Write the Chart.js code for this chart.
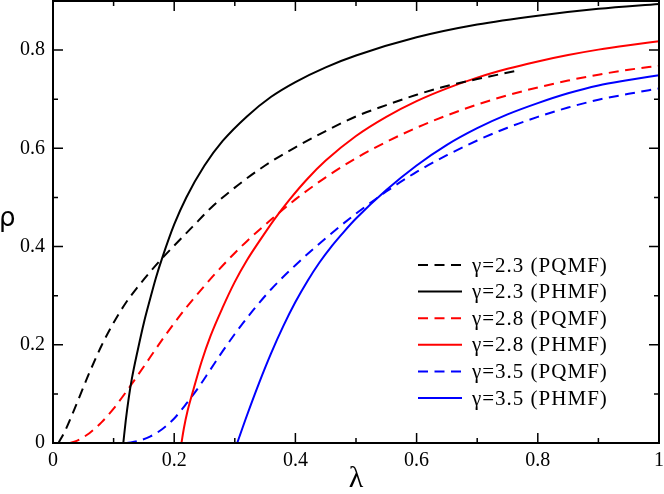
<!DOCTYPE html>
<html>
<head>
<meta charset="utf-8">
<style>
  body { margin: 0; background: #fff; }
  #wrap { width: 664px; height: 494px; position: relative; }
</style>
</head>
<body>
<div id="wrap"><canvas id="rhoChart"></canvas></div>
<script src="https://cdn.jsdelivr.net/npm/chart.js@4.4.0/dist/chart.umd.min.js"></script>
<script>
// tick marks and labels
const xTickVals = [0, 0.2, 0.4, 0.6, 0.8, 1];
const xTickLabels = ['0', '0.2', '0.4', '0.6', '0.8', '1'];
const xMinorVals = [0.1, 0.3, 0.5, 0.7, 0.9];
const yTickVals = [0, 0.2, 0.4, 0.6, 0.8];
const yTickLabels = ['0', '0.2', '0.4', '0.6', '0.8'];
const yMinorVals = [0.1, 0.3, 0.5, 0.7];

const seriesLabels = ['γ=2.3 (PQMF)', 'γ=2.3 (PHMF)', 'γ=2.8 (PQMF)',
                      'γ=2.8 (PHMF)', 'γ=3.5 (PQMF)', 'γ=3.5 (PHMF)'];

// gamma = 2.3, PQMF (dashed black)
const lam23q = [0.009, 0.02, 0.03, 0.045, 0.06, 0.08, 0.1, 0.12, 0.14, 0.16, 0.18, 0.2, 0.23, 0.26, 0.3, 0.35, 0.4, 0.45, 0.5, 0.55, 0.6, 0.65, 0.7, 0.765];
const rho23q = [0, 0.025, 0.053, 0.098, 0.143, 0.198, 0.245, 0.285, 0.318, 0.348, 0.376, 0.402, 0.44, 0.478, 0.52, 0.565, 0.602, 0.635, 0.665, 0.688, 0.709, 0.727, 0.741, 0.758];
// gamma = 2.3, PHMF (solid black)
const lam23h = [0.116, 0.12, 0.125, 0.13, 0.14, 0.15, 0.16, 0.17, 0.18, 0.2, 0.22, 0.25, 0.28, 0.32, 0.36, 0.4, 0.45, 0.5, 0.6, 0.7, 0.8, 0.9, 1.0];
const rho23h = [0, 0.045, 0.092, 0.13, 0.19, 0.245, 0.292, 0.337, 0.376, 0.445, 0.5, 0.565, 0.615, 0.665, 0.705, 0.735, 0.765, 0.789, 0.826, 0.852, 0.870, 0.884, 0.894];
// gamma = 2.8, PQMF (dashed red)
const lam28q = [0.028, 0.04, 0.06, 0.08, 0.1, 0.12, 0.14, 0.16, 0.18, 0.2, 0.22, 0.25, 0.27, 0.3, 0.32, 0.36, 0.4, 0.45, 0.5, 0.55, 0.6, 0.65, 0.7, 0.75, 0.8, 0.85, 0.9, 0.95, 1.0];
const rho28q = [0, 0.005, 0.02, 0.042, 0.07, 0.103, 0.138, 0.174, 0.21, 0.244, 0.276, 0.32, 0.348, 0.387, 0.411, 0.455, 0.496, 0.541, 0.58, 0.613, 0.642, 0.667, 0.689, 0.708, 0.724, 0.738, 0.75, 0.76, 0.768];
// gamma = 2.8, PHMF (solid red)
const lam28h = [0.212, 0.216, 0.222, 0.232, 0.245, 0.26, 0.28, 0.3, 0.32, 0.34, 0.365, 0.39, 0.42, 0.45, 0.5, 0.55, 0.6, 0.65, 0.7, 0.75, 0.8, 0.85, 0.9, 0.95, 1.0];
const rho28h = [0, 0.03, 0.065, 0.11, 0.165, 0.218, 0.276, 0.328, 0.372, 0.41, 0.455, 0.495, 0.538, 0.575, 0.625, 0.664, 0.696, 0.722, 0.744, 0.762, 0.777, 0.79, 0.801, 0.81, 0.818];
// gamma = 3.5, PQMF (dashed blue)
const lam35q = [0.122, 0.14, 0.16, 0.18, 0.2, 0.22, 0.24, 0.26, 0.28, 0.3, 0.33, 0.36, 0.4, 0.45, 0.5, 0.55, 0.6, 0.65, 0.7, 0.75, 0.8, 0.85, 0.9, 0.95, 1.0];
const rho35q = [0, 0.004, 0.013, 0.028, 0.05, 0.08, 0.113, 0.15, 0.187, 0.222, 0.27, 0.313, 0.362, 0.417, 0.467, 0.512, 0.552, 0.586, 0.616, 0.642, 0.664, 0.683, 0.699, 0.711, 0.722];
// gamma = 3.5, PHMF (solid blue)
const lam35h = [0.304, 0.32, 0.34, 0.36, 0.38, 0.4, 0.42, 0.44, 0.46, 0.48, 0.5, 0.55, 0.6, 0.65, 0.7, 0.75, 0.8, 0.85, 0.9, 0.95, 1.0];
const rho35h = [0, 0.056, 0.122, 0.183, 0.238, 0.287, 0.33, 0.368, 0.401, 0.43, 0.457, 0.515, 0.565, 0.607, 0.641, 0.669, 0.692, 0.712, 0.728, 0.739, 0.749];

function pts(xs, ys) {
  return xs.map(function (x, i) { return { x: x, y: ys[i] }; });
}

const dashPattern = [10, 6.5];
const seriesData = [
  [lam23q, rho23q, '#000000', true],
  [lam23h, rho23h, '#000000', false],
  [lam28q, rho28q, '#ff0000', true],
  [lam28h, rho28h, '#ff0000', false],
  [lam35q, rho35q, '#0000ff', true],
  [lam35h, rho35h, '#0000ff', false]
];

const datasets = seriesData.map(function (s, i) {
  return {
    label: seriesLabels[i],
    data: pts(s[0], s[1]),
    borderColor: s[2],
    backgroundColor: s[2],
    borderWidth: 2,
    borderDash: s[3] ? dashPattern : [],
    pointRadius: 0,
    fill: false,
    cubicInterpolationMode: 'monotone'
  };
});

const serif = '"Liberation Serif", "DejaVu Serif", serif';

// frame, inward ticks on all four sides, rho label and in-plot legend
const framePlugin = {
  id: 'frame',
  afterDatasetsDraw: function (chart) {
    const ctx = chart.ctx;
    const a = chart.chartArea;
    const xs = chart.scales.x;
    const ys = chart.scales.y;
    ctx.save();
    ctx.strokeStyle = '#000';
    ctx.lineWidth = 1.5;
    ctx.beginPath();
    function tickX(v, len) {
      const px = xs.getPixelForValue(v);
      ctx.moveTo(px, a.bottom); ctx.lineTo(px, a.bottom - len);
      ctx.moveTo(px, a.top); ctx.lineTo(px, a.top + len);
    }
    function tickY(v, len) {
      const py = ys.getPixelForValue(v);
      ctx.moveTo(a.left, py); ctx.lineTo(a.left + len, py);
      ctx.moveTo(a.right, py); ctx.lineTo(a.right - len, py);
    }
    xTickVals.forEach(function (v) { tickX(v, 10); });
    xMinorVals.forEach(function (v) { tickX(v, 5); });
    yTickVals.forEach(function (v) { tickY(v, 10); });
    yMinorVals.forEach(function (v) { tickY(v, 5); });
    ctx.stroke();
    ctx.lineWidth = 2;
    ctx.strokeRect(a.left, a.top, a.right - a.left, a.bottom - a.top);

    // y axis title, upright
    ctx.fillStyle = '#000';
    ctx.font = '26px "DejaVu Sans", sans-serif';
    ctx.textAlign = 'left';
    ctx.textBaseline = 'alphabetic';
    ctx.fillText('ρ', -1, 226);

    // legend
    ctx.font = '21px ' + serif;
    ctx.letterSpacing = '1px';
    ctx.textBaseline = 'middle';
    chart.data.datasets.forEach(function (ds, i) {
      const y = a.top + 264 + i * 26.6;
      const x0 = a.right - 241;
      ctx.strokeStyle = ds.borderColor;
      ctx.lineWidth = 2;
      ctx.setLineDash(ds.borderDash);
      ctx.beginPath();
      ctx.moveTo(x0, y);
      ctx.lineTo(x0 + 44, y);
      ctx.stroke();
      ctx.setLineDash([]);
      ctx.fillText(ds.label, x0 + 54, y + 1);
    });
    ctx.restore();
  }
};

new Chart(document.getElementById('rhoChart'), {
  type: 'line',
  data: { datasets: datasets },
  options: {
    responsive: true,
    maintainAspectRatio: false,
    animation: false,
    layout: { padding: { top: 1, right: 5, left: 0, bottom: 0 } },
    plugins: {
      legend: { display: false },
      tooltip: { enabled: false }
    },
    scales: {
      x: {
        type: 'linear',
        min: 0,
        max: 1,
        afterBuildTicks: function (scale) {
          scale.ticks = xTickVals.map(function (v) { return { value: v }; });
        },
        afterFit: function (scale) {
          scale.height = 51;
          scale.paddingLeft = 0;
          scale.paddingRight = 0;
        },
        ticks: {
          autoSkip: false,
          maxRotation: 0,
          padding: 6,
          color: '#000',
          font: { family: serif, size: 20 },
          callback: function (v) { return xTickLabels[xTickVals.indexOf(v)]; }
        },
        grid: { display: false, drawTicks: false },
        border: { display: false },
        title: {
          display: true,
          text: 'λ',
          color: '#000',
          font: { family: serif, size: 30, lineHeight: 1 },
          padding: { top: 0, bottom: 0 }
        }
      },
      y: {
        type: 'linear',
        min: 0,
        max: 0.9,
        afterBuildTicks: function (scale) {
          scale.ticks = yTickVals.map(function (v) { return { value: v }; });
        },
        afterFit: function (scale) {
          scale.width = 53;
          scale.paddingTop = 0;
          scale.paddingBottom = 0;
        },
        ticks: {
          autoSkip: false,
          padding: 8,
          color: '#000',
          font: { family: serif, size: 20 },
          callback: function (v) { return yTickLabels[yTickVals.indexOf(v)]; }
        },
        grid: { display: false, drawTicks: false },
        border: { display: false }
      }
    }
  },
  plugins: [framePlugin]
});
</script>
</body>
</html>
